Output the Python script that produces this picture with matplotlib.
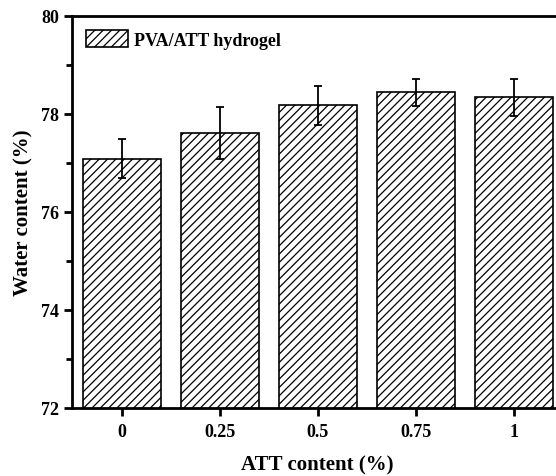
import matplotlib
matplotlib.use("Agg")
import matplotlib.pyplot as plt
import numpy as np
from matplotlib.ticker import MultipleLocator

categories = ["0", "0.25", "0.5", "0.75", "1"]
water = [77.09, 77.61, 78.18, 78.44, 78.34]
err = [0.40, 0.53, 0.40, 0.28, 0.38]
legend_label = "PVA/ATT hydrogel"

plt.rcParams['font.family'] = ['Liberation Serif', 'DejaVu Serif']
plt.rcParams['font.weight'] = 'bold'
plt.rcParams['hatch.linewidth'] = 0.9

W, H = 556, 477
fig = plt.figure(figsize=(W/100, H/100), dpi=100)
left, right, top, bottom = 72, 563, 17, 409
ax = fig.add_axes([left/W, 1-bottom/H, (right-left)/W, (bottom-top)/H])

x = np.arange(len(categories))
ax.bar(x, water, width=0.8, color='white', edgecolor='black', linewidth=1.2,
       hatch='////', label=legend_label)
ax.errorbar(x, water, yerr=err, fmt='none', ecolor='black', elinewidth=1.3,
            capsize=3, capthick=1.3)

ax.set_xlim(-0.51, 4.5)
ax.set_ylim(72, 80)
ax.set_xticks(x)
ax.set_xticklabels(categories)
ax.yaxis.set_major_locator(MultipleLocator(2))
ax.yaxis.set_minor_locator(MultipleLocator(1))
for s in ax.spines.values():
    s.set_linewidth(2)
ax.tick_params(axis='both', which='major', direction='out', length=6, width=2,
               labelsize=13)
ax.tick_params(axis='x', which='major', pad=5)
ax.tick_params(axis='y', which='minor', direction='out', length=4, width=2)
ax.tick_params(top=False, right=False)

ax.set_xlabel("ATT content (%)", fontsize=15, fontweight='bold', labelpad=10)
ax.set_ylabel("Water content (%)", fontsize=15, fontweight='bold', labelpad=5)

ax.legend(loc='upper left', frameon=False, fontsize=13, handlelength=2.3,
          handleheight=1.05, handletextpad=0.35, bbox_to_anchor=(0.0, 1.0),
          borderaxespad=0.5, borderpad=0.3)

fig.savefig("out.png", dpi=100)
